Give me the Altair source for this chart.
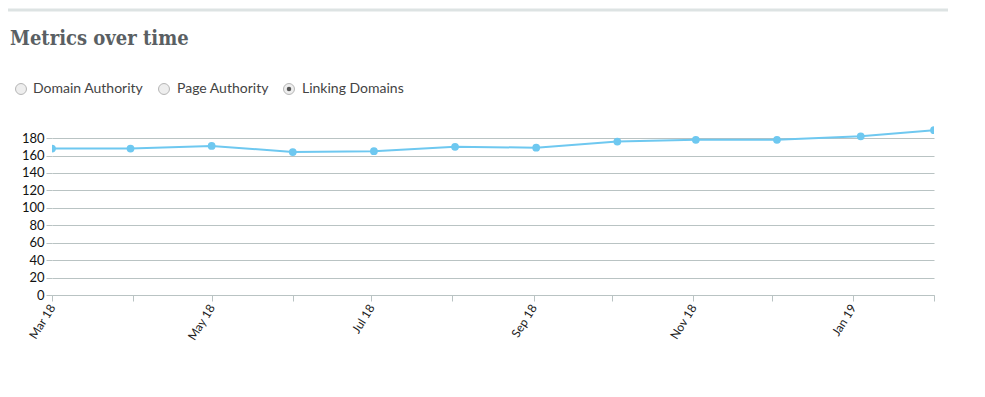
import altair as alt
import pandas as pd

dates = ["2018-03-01", "2018-03-31", "2018-05-01", "2018-06-01", "2018-07-02",
         "2018-08-02", "2018-09-02", "2018-10-03", "2018-11-02", "2018-12-03",
         "2019-01-04", "2019-02-01"]
linking_domains = [168, 168, 171, 164, 165, 170, 169, 176, 178, 178, 182, 189]
y_ticks = [0, 20, 40, 60, 80, 100, 120, 140, 160, 180]
options = ["Domain Authority", "Page Authority", "Linking Domains"]
selected = [False, False, True]
title_text = ["Metrics over time"]

df = pd.DataFrame({"date": dates, "value": linking_domains})

W, H = 882, 170
xscale = alt.Scale(type="utc", domain=["2018-03-01", "2019-02-01"], nice=False)
yscale = alt.Scale(domain=[0, 195], nice=False, zero=True)

xaxis = alt.Axis(
    title=None, grid=False, tickCount={"interval": "month", "step": 1},
    labelExpr="utcmonth(datum.value) % 2 == 0 ? utcFormat(datum.value, '%b %y') : ''",
    labelAngle=302, labelAlign="right", labelBaseline="middle",
    labelFont="Lato", labelFontSize=12, labelColor="#222222",
    tickColor="#b9c3c3", tickSize=6, domainColor="#b9c3c3", labelPadding=4,
    labelOverlap=False,
)
yaxis = alt.Axis(
    title=None, values=y_ticks, grid=True, gridColor="#b9c3c3", domain=False,
    tickColor="#b9c3c3", tickSize=6, labelPadding=2, labelOverlap=False,
    labelFont="Lato", labelFontSize=13, labelColor="#111111",
)

line = alt.Chart(df).mark_line(color="#6ec8f0", strokeWidth=2, clip=True).encode(
    x=alt.X("date:T", scale=xscale, axis=xaxis),
    y=alt.Y("value:Q", scale=yscale, axis=yaxis),
)
points = alt.Chart(df).mark_circle(color="#6ec8f0", size=60, opacity=1, clip=True).encode(
    x=alt.X("date:T", scale=xscale, axis=xaxis),
    y=alt.Y("value:Q", scale=yscale, axis=yaxis),
)

# decorations above the plot
top_rule = alt.Chart(pd.DataFrame({"a": [0]})).mark_rule(color="#dde3e3", strokeWidth=3).encode(
    x=alt.value(-44), x2=alt.value(896), y=alt.value(-115)
)
title = alt.Chart(pd.DataFrame({"t": title_text})).mark_text(
    align="left", baseline="alphabetic", font="DejaVu Serif Condensed", fontWeight="bold",
    fontSize=20, color="#5a5f63"
).encode(x=alt.value(-42), y=alt.value(-80), text="t:N")

opt_df = pd.DataFrame({"label": options, "sel": selected, "cx": [-31, 112, 237], "lx": [-19, 125, 250]})
radio_outer = alt.Chart(opt_df).mark_point(
    shape="circle", size=120, filled=True, fill="#eeeeee", stroke="#b5b5b5", strokeWidth=1, opacity=1
).encode(x=alt.X("cx:Q", scale=None), y=alt.value(-36))
radio_inner = alt.Chart(opt_df).transform_filter("datum.sel").mark_point(
    shape="circle", size=20, filled=True, color="#555555", opacity=1
).encode(x=alt.X("cx:Q", scale=None), y=alt.value(-36))
radio_text = alt.Chart(opt_df).mark_text(
    align="left", baseline="middle", font="Lato", fontSize=14, color="#444444"
).encode(x=alt.X("lx:Q", scale=None), y=alt.value(-36), text="label:N")

chart = alt.layer(
    line, points, top_rule, title, radio_outer, radio_inner, radio_text
).properties(
    width=W, height=H,
    autosize=alt.AutoSizeParams(type="none"),
    padding={"left": 44, "top": 117, "right": 43, "bottom": 85},
).configure_view(stroke=None)

chart.save("out.html", embed_options={"renderer": "svg", "actions": False})
